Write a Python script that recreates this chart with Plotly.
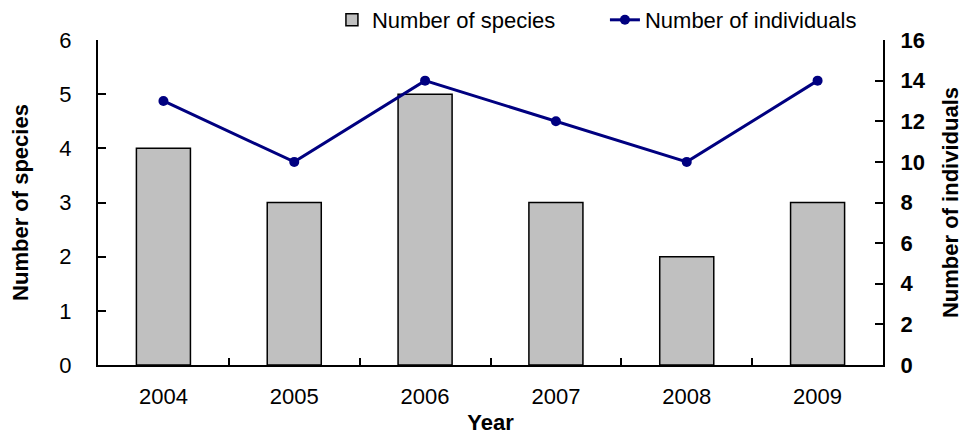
import plotly.graph_objects as go

years = ["2004", "2005", "2006", "2007", "2008", "2009"]
species = [4, 3, 5, 3, 2, 3]
individuals = [13, 10, 14, 12, 10, 14]

FONT = "Liberation Sans, Arial, sans-serif"
FS = 22

fig = go.Figure()
fig.add_trace(go.Bar(
    x=years, y=species, name="Number of species",
    marker=dict(color="#c0c0c0", line=dict(color="black", width=1.5)),
    width=0.413, yaxis="y",
))
fig.add_trace(go.Scatter(
    x=years, y=individuals, name="Number of individuals",
    mode="lines+markers", yaxis="y2",
    line=dict(color="#000080", width=3),
    marker=dict(color="#000080", size=10),
))

fig.update_layout(
    width=969, height=439,
    margin=dict(l=90, r=94, t=32, b=82, autoexpand=False),
    paper_bgcolor="white", plot_bgcolor="white",
    font=dict(family=FONT, size=FS, color="black"),
    showlegend=True,
    legend=dict(orientation="h", x=0.298, xanchor="left", y=1.0615, yanchor="middle",
                font=dict(size=FS), tracegroupgap=0, entrywidth=228,
                bgcolor="rgba(0,0,0,0)"),
    xaxis=dict(
        type="category", showline=True, linecolor="black", linewidth=2,
        ticks="inside", tickson="boundaries", ticklen=7, tickcolor="black", tickwidth=1.5,
        showgrid=False, tickfont=dict(size=FS), ticklabelstandoff=11,
        title=dict(text="<b>Year</b>", font=dict(size=FS), standoff=6),
        range=[-0.5, 5.5],
    ),
    yaxis=dict(
        range=[0, 6], dtick=1, showline=True, linecolor="black", linewidth=2,
        ticks="inside", ticklen=8, tickcolor="black", tickwidth=1.5,
        showgrid=False, zeroline=False, tickfont=dict(size=FS), ticklabelstandoff=20,
        title=dict(text="<b>Number of species</b>", font=dict(size=FS), standoff=26),
    ),
    yaxis2=dict(
        range=[0, 16], dtick=2, overlaying="y", side="right",
        showline=True, linecolor="black", linewidth=2,
        ticks="inside", ticklen=8, tickcolor="black", tickwidth=1.5,
        showgrid=False, zeroline=False,
        tickfont=dict(size=FS), ticklabelstandoff=11,
        tickprefix="<b>", ticksuffix="</b>",
        title=dict(text="<b>Number of individuals</b>", font=dict(size=FS), standoff=18),
    ),
)

fig.write_html("out.html")
